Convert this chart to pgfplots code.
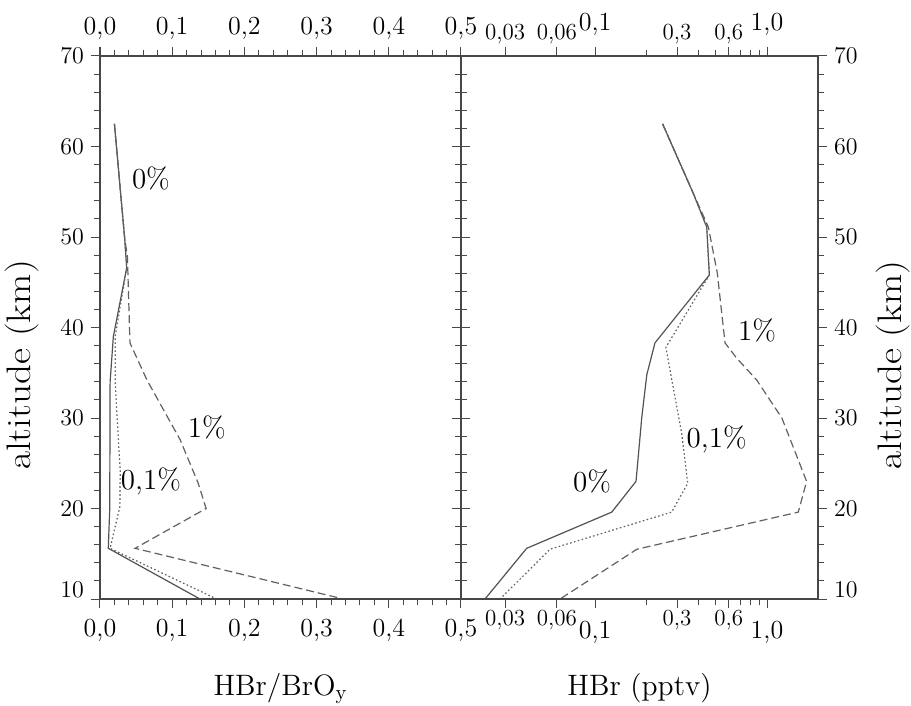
\documentclass[border=0pt]{standalone}
\usepackage{graphicx}
\usepackage{pgfplots}
\pgfplotsset{compat=1.18}
\tikzset{
  s0/.style={draw=black!68, line width=0.6pt},
  s01/.style={draw=black!62, line width=0.6pt, dash pattern=on 0.8pt off 1.2pt},
  s1/.style={draw=black!62, line width=0.6pt, dash pattern=on 4pt off 2pt},
  pct/.style={font=\fontsize{14.5}{17}\selectfont, inner sep=0pt},
  lbl/.style={font=\fontsize{14.75}{17}\selectfont},
  ylbl/.style={font=\fontsize{17}{20}\selectfont},
}
\begin{document}
\begin{tikzpicture}
\path[use as bounding box] (0,0) rectangle (455.5pt,-353pt);
\pgfplotsset{
  panel/.style={
    scale only axis, height=271.5pt, ymin=10, ymax=70,
    tick align=outside, major tick length=4.5pt, minor tick length=3pt,
    axis line style={draw=black!72, line width=0.6pt},
    every tick/.style={draw=black!72, line width=0.5pt},
    ytick={20,30,40,50,60,70},
    minor ytick={12,14,16,18,22,24,26,28,32,34,36,38,42,44,46,48,52,54,56,58,62,64,66,68},
    extra y ticks={10},
    extra y tick style={yticklabel style={yshift=4.5pt}},
    ytick pos=both,
    tick label style={font=\fontsize{13}{15}\selectfont},
    no markers, clip=true,
  },
}
% ---------------- left panel -----------------
\begin{axis}[panel, at={(50pt,-28pt)}, anchor=north west, width=180.5pt,
  xmin=0, xmax=0.5,
  xtick={0,0.1,0.2,0.3,0.4,0.5},
  xticklabels={{0,0},{0,1},{0,2},{0,3},{0,4},{0,5}},
  minor xtick={0.02,0.04,0.06,0.08,0.12,0.14,0.16,0.18,0.22,0.24,0.26,0.28,0.32,0.34,0.36,0.38,0.42,0.44,0.46,0.48},
  xtick pos=both, xticklabel pos=lower, yticklabel pos=left,
  xticklabel style={yshift=-2pt},
  xlabel={HBr/BrO\textsubscript{y}},
  xlabel style={lbl, at={(axis description cs:0.5,0)}, anchor=base, yshift=-48pt},
  ylabel={\scalebox{1.15}[1]{altitude (km)}},
  ylabel style={ylbl, at={(axis description cs:-0.216,0.431)}, anchor=center},
]
\addplot[s0] coordinates {(0.020,62.5) (0.034,50) (0.037,46.6) (0.0185,39) (0.014,34) (0.0135,20) (0.0115,15.6) (0.1385,10)};
\addplot[s01] coordinates {(0.020,62.5) (0.034,50) (0.037,46.6) (0.021,39) (0.021,34) (0.028,24) (0.0275,20.2) (0.014,15.6) (0.1616,10)};
\addplot[s1] coordinates {(0.020,62.5) (0.034,50) (0.038,47.8) (0.0415,38.3) (0.065,34.2) (0.111,27.6) (0.136,22.8) (0.147,20) (0.0485,15.6) (0.337,10)};
\node[pct] at (axis cs:0.0706,56.5) {0\%};
\node[pct] at (axis cs:0.148,29.0) {1\%};
\node[pct] at (axis cs:0.0706,23.0) {0,1\%};
\end{axis}
\begin{axis}[panel, at={(50pt,-28pt)}, anchor=north west, width=180.5pt,
  xmin=0, xmax=0.5,
  xtick={0,0.1,0.2,0.3,0.4,0.5},
  xticklabels={{0,0},{0,1},{0,2},{0,3},{0,4},{0,5}},
  xticklabel style={yshift=0pt},
  xtick pos=upper, xticklabel pos=upper, hide y axis,
]
\end{axis}
% ---------------- right panel -----------------
\begin{axis}[panel, at={(230.5pt,-28pt)}, anchor=north west, width=178.5pt,
  xmode=log, xmin=0.0166, xmax=1.98,
  xtick={0.1,1}, xticklabels={{0,1},{1,0}},
  xticklabel style={yshift=-3pt},
  minor xtick={},
  extra x ticks={0.03,0.06,0.3,0.6},
  extra x tick labels={{0,03},{0,06},{0,3},{0,6}},
  extra x tick style={xticklabel style={yshift=5.5pt, font=\fontsize{11.5}{13}\selectfont}},
  xtick pos=both, xticklabel pos=lower, yticklabel pos=right,
  xlabel={HBr (pptv)},
  xlabel style={lbl, at={(axis description cs:0.5,0)}, anchor=base, yshift=-48pt},
  ylabel={\scalebox{1.15}[1]{altitude (km)}},
  ylabel style={ylbl, at={(axis description cs:1.21,0.431)}, anchor=center},
]
\addplot[s0] coordinates {(0.247,62.5) (0.373,54.8) (0.446,51.1) (0.462,45.8) (0.223,38.3) (0.200,34.8) (0.187,30.1) (0.173,23.0) (0.125,19.6) (0.040,15.6) (0.0229,10)};
\addplot[s01] coordinates {(0.247,62.5) (0.373,54.8) (0.446,51.1) (0.462,45.8) (0.258,37.8) (0.319,28.3) (0.346,22.8) (0.279,19.6) (0.0547,15.5) (0.028,10)};
\addplot[s1] coordinates {(0.247,62.5) (0.373,54.8) (0.456,51.1) (0.514,46.0) (0.570,38.3) (0.667,36.6) (0.871,34.2) (1.22,30.0) (1.70,23.0) (1.52,19.6) (0.175,15.5) (0.0626,10)};
\node[pct] at (axis cs:0.875,39.7) {1\%};
\node[pct] at (axis cs:0.510,27.6) {0,1\%};
\node[pct] at (axis cs:0.0961,23.0) {0\%};
\end{axis}
\begin{axis}[panel, at={(230.5pt,-28pt)}, anchor=north west, width=178.5pt,
  xmode=log, xmin=0.0166, xmax=1.98,
  xtick={0.1,1}, xticklabels={{0,1},{1,0}},
  xticklabel style={yshift=2pt},
  minor xtick={},
  extra x ticks={0.03,0.06,0.3,0.6},
  extra x tick labels={{0,03},{0,06},{0,3},{0,6}},
  extra x tick style={xticklabel style={yshift=-4pt, font=\fontsize{11.5}{13}\selectfont}},
  xtick pos=upper, xticklabel pos=upper, hide y axis,
]
\end{axis}
\end{tikzpicture}
\end{document}
